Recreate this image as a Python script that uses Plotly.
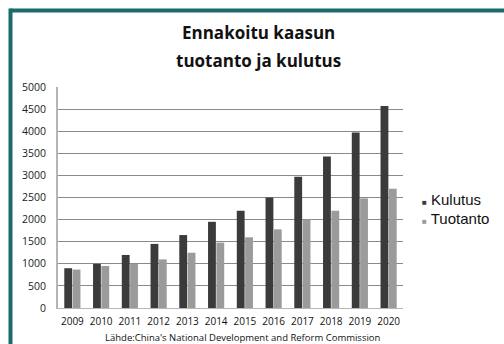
import plotly.graph_objects as go

years = ["2009", "2010", "2011", "2012", "2013", "2014", "2015", "2016", "2017", "2018", "2019", "2020"]
kulutus = [900, 1000, 1200, 1450, 1650, 1950, 2200, 2500, 2970, 3430, 3970, 4570]
tuotanto = [870, 950, 1000, 1100, 1250, 1480, 1600, 1780, 2000, 2200, 2480, 2700]
y_ticks = [0, 500, 1000, 1500, 2000, 2500, 3000, 3500, 4000, 4500, 5000]
series_names = ["Kulutus", "Tuotanto"]
title_lines = ["Ennakoitu kaasun", "tuotanto ja kulutus"]
source_text = "Lähde:China's National Development and Reform Commission"

W, H = 504, 344
L, R, T, B = 58, 101, 87, 36
pw, ph = W - L - R, H - T - B

def px(x):
    return (x - L) / pw

def py(y):
    return (H - B - y) / ph

dark = "#3b3b3b"
light = "#9b9b9b"
teal = "#1c6b6b"
colors = [dark, light]

fig = go.Figure()
fig.add_trace(go.Bar(x=years, y=kulutus, name=series_names[0], marker=dict(color=dark, line=dict(width=0))))
fig.add_trace(go.Bar(x=years, y=tuotanto, name=series_names[1], marker=dict(color=light, line=dict(width=0))))

fig.update_layout(
    width=W, height=H,
    margin=dict(l=L, r=R, t=T, b=B, pad=0, autoexpand=False),
    paper_bgcolor="white", plot_bgcolor="white",
    barmode="group", bargap=0.42, bargroupgap=0.06,
    font=dict(family="Open Sans", color="#222"),
    showlegend=False,
)
fig.update_yaxes(range=[0, 5000], tickvals=y_ticks, ticktext=[str(v) for v in y_ticks],
                 automargin=False,
                 showgrid=True, gridcolor="#8a8a8a", gridwidth=1,
                 showline=True, linecolor="#b5b5b5", linewidth=2,
                 zeroline=False, ticks="outside", ticklen=8, tickcolor="rgba(0,0,0,0)",
                 tickfont=dict(family="Open Sans", size=10.5, color="#222"))
fig.update_xaxes(showgrid=False, showline=True, linecolor="#b5b5b5", linewidth=1,
                 automargin=False, tickangle=0,
                 ticks="outside", ticklen=4, tickcolor="rgba(0,0,0,0)",
                 tickfont=dict(family="Open Sans", size=10, color="#111"))

# title (two lines)
for i, line in enumerate(title_lines):
    fig.add_annotation(text="<b>%s</b>" % line,
                       xref="paper", yref="paper", x=px(258), y=py(33 + 27 * i),
                       xanchor="center", yanchor="middle",
                       showarrow=False, font=dict(family="Open Sans", size=17, color="#111"))

fig.add_annotation(text=source_text,
                   xref="paper", yref="paper", x=px(243), y=py(337.5), xanchor="center", yanchor="middle",
                   showarrow=False, font=dict(family="Open Sans", size=9.5, color="#111"))

# legend
for i, (name, c) in enumerate(zip(series_names, colors)):
    fig.add_annotation(text="<span style='font-size:8px;color:%s'>■</span> %s" % (c, name),
                       xref="paper", yref="paper", x=px(420), y=py(199 + 19 * i),
                       xanchor="left", yanchor="middle",
                       showarrow=False, font=dict(family="Liberation Sans", size=15, color="#111"))

# outer frame (top and left edges visible)
fig.add_shape(type="line", xref="paper", yref="paper", x0=px(10.5), x1=px(510), y0=py(10.5), y1=py(10.5),
              line=dict(color=teal, width=4))
fig.add_shape(type="line", xref="paper", yref="paper", x0=px(10.5), x1=px(10.5), y0=py(8.5), y1=py(350),
              line=dict(color=teal, width=4))

fig.write_html("out.html")
